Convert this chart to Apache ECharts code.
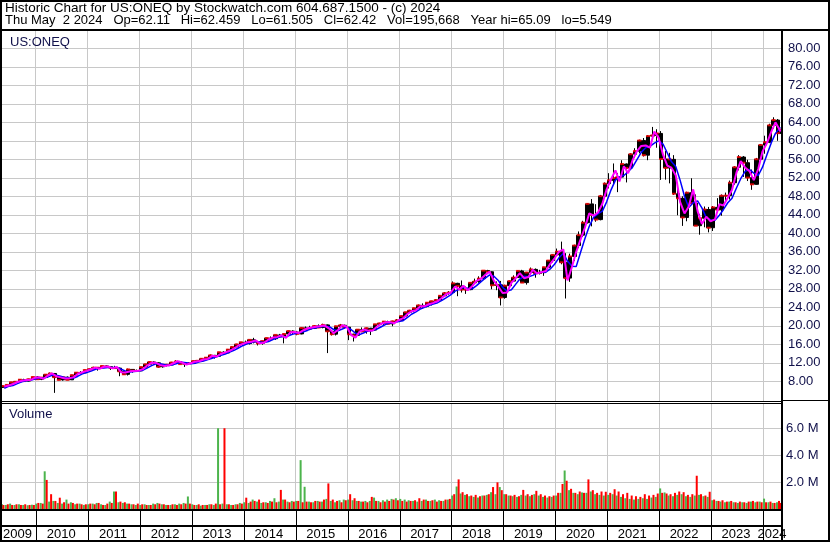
<!DOCTYPE html>
<html><head><meta charset="utf-8">
<script src="https://cdn.jsdelivr.net/npm/echarts@6.0.0/dist/echarts.min.js"></script>
<style>html,body{margin:0;padding:0;background:#fff;}#chart{width:830px;height:543px;}</style>
</head><body><div id="chart"></div>
<script>
// ---------- DATA (monthly, May 2009 .. May 2024) ----------
const startYear = 2009, startMonth = 4; // May 2009 (0-based month)
const lastDate = '2024-05-02';
const axisStart = '2009-05-12', axisEnd = '2024-05-13';
const yearTickLabels = [2009,2010,2011,2012,2013,2014,2015,2016,2017,2018,2019,2020,2021,2022,2023,2024];
const priceTicks = [8,12,16,20,24,28,32,36,40,44,48,52,56,60,64,68,72,76,80];
const volumeTicks = [2,4,6];
const headerLine1 = 'Historic Chart for US:ONEQ by Stockwatch.com 604.687.1500 - (c) 2024';
const headerLine2 = 'Thu May  2 2024   Op=62.11   Hi=62.459   Lo=61.505   Cl=62.42   Vol=195,668   Year hi=65.09   lo=5.549';

const openP = [
 6.70,6.98,7.22,7.79,7.91,8.35,8.05,8.44,
 8.93,8.45,8.81,9.44,9.69,8.89,8.30,8.88,8.32,9.33,9.87,9.83,
 10.44,10.63,10.95,10.95,11.31,11.16,10.92,10.85,10.15,9.51,10.57,10.31,
 10.26,11.08,11.68,12.17,11.99,11.13,11.56,11.57,12.07,12.27,11.72,11.85,
 11.89,12.37,12.44,12.87,13.11,13.61,13.40,14.28,14.13,14.85,15.43,15.98,
 16.44,16.16,16.96,16.53,16.20,16.70,17.35,17.20,18.03,17.69,18.23,18.87,
 18.65,18.25,19.54,19.30,19.45,19.96,19.63,20.19,18.81,18.19,19.90,20.11,
 19.71,18.17,17.94,19.17,18.80,19.48,19.07,20.32,20.52,20.91,20.43,20.96,
 21.19,22.11,22.93,23.28,23.81,24.41,24.17,24.99,25.31,25.57,26.49,27.06,
 27.18,29.18,28.63,27.81,27.82,29.30,29.57,30.20,31.93,31.68,28.76,28.86,
 26.12,28.67,29.66,30.43,31.87,29.34,31.52,32.19,31.35,31.49,32.65,34.11,
 35.33,36.03,33.73,30.31,35.00,37.36,39.60,42.30,46.36,43.97,42.96,48.03,
 50.74,51.46,51.94,52.15,54.97,54.13,57.10,57.77,60.07,56.89,61.02,61.17,
 61.59,56.06,54.14,55.99,48.56,47.56,43.42,48.78,46.52,41.64,43.26,45.15,
 41.20,45.61,45.10,48.12,48.14,50.93,54.28,56.48,55.26,52.04,50.59,56.01,
 59.10,59.70,63.35,64.48,61.65
];
const closeP = [
 6.98,7.22,7.79,7.91,8.35,8.05,8.44,8.93,
 8.45,8.81,9.44,9.69,8.89,8.30,8.88,8.32,9.33,9.87,9.83,10.44,
 10.63,10.95,10.95,11.31,11.16,10.92,10.85,10.15,9.51,10.57,10.31,10.26,
 11.08,11.68,12.17,11.99,11.13,11.56,11.57,12.07,12.27,11.72,11.85,11.89,
 12.37,12.44,12.87,13.11,13.61,13.40,14.28,14.13,14.85,15.43,15.98,16.44,
 16.16,16.96,16.53,16.20,16.70,17.35,17.20,18.03,17.69,18.23,18.87,18.65,
 18.25,19.54,19.30,19.45,19.96,19.63,20.19,18.81,18.19,19.90,20.11,19.71,
 18.17,17.94,19.17,18.80,19.48,19.07,20.32,20.52,20.91,20.43,20.96,21.19,
 22.11,22.93,23.28,23.81,24.41,24.17,24.99,25.31,25.57,26.49,27.06,27.18,
 29.18,28.63,27.81,27.82,29.30,29.57,30.20,31.93,31.68,28.76,28.86,26.12,
 28.67,29.66,30.43,31.87,29.34,31.52,32.19,31.35,31.49,32.65,34.11,35.33,
 36.03,33.73,30.31,35.00,37.36,39.60,42.30,46.36,43.97,42.96,48.03,50.74,
 51.46,51.94,52.15,54.97,54.13,57.10,57.77,60.07,56.89,61.02,61.17,61.59,
 56.06,54.14,55.99,48.56,47.56,43.42,48.78,46.52,41.64,43.26,45.15,41.20,
 45.61,45.10,48.12,48.14,50.93,54.28,56.48,55.26,52.04,50.59,56.01,59.10,
 59.70,63.35,64.48,61.65,62.42
];
const highP = [
 7.10,7.30,7.85,8.05,8.45,8.55,8.55,8.98,
 9.10,8.85,9.48,9.90,9.80,9.25,8.95,9.05,9.40,9.95,10.20,10.50,
 10.80,11.15,11.05,11.40,11.45,11.20,11.35,10.95,10.30,10.75,10.65,10.55,
 11.10,11.75,12.30,12.30,12.10,11.65,11.75,12.20,12.55,12.40,11.95,12.10,
 12.45,12.60,12.95,13.15,13.80,13.70,14.35,14.50,15.00,15.60,16.10,16.50,
 16.80,17.05,17.40,16.75,16.75,17.40,17.70,18.05,18.25,18.30,18.95,19.00,
 18.90,19.65,19.85,20.00,20.10,20.30,20.45,20.30,19.00,20.00,20.40,20.25,
 19.75,18.30,19.25,19.65,19.60,19.55,20.40,20.65,21.05,21.10,21.10,21.45,
 22.20,23.00,23.45,23.90,24.60,24.85,25.15,25.40,25.75,26.60,27.30,27.50,
 29.60,29.30,29.80,28.50,29.45,30.20,30.70,32.00,32.10,31.75,29.60,29.70,
 28.90,29.80,30.90,32.00,32.10,31.65,32.60,32.40,32.10,32.75,34.20,35.45,
 36.70,38.20,35.70,35.60,37.55,40.40,42.70,46.50,47.40,46.30,48.30,51.00,
 53.00,55.10,53.00,55.80,55.10,57.30,58.40,60.25,60.60,61.20,63.00,62.50,
 62.10,57.80,57.40,56.90,50.00,48.00,49.00,51.90,48.40,44.20,45.80,45.70,
 45.90,47.60,48.40,48.80,51.40,54.50,56.90,56.70,55.90,53.80,56.30,59.30,
 61.10,63.70,65.09,64.70,62.46
];
const lowP = [
 6.55,6.90,6.95,7.60,7.75,8.00,7.95,8.40,
 8.40,8.25,8.80,9.40,5.50,8.25,8.15,8.25,8.30,9.25,9.70,9.85,
 10.40,10.60,10.30,10.85,10.90,10.45,10.75,9.10,9.40,9.25,9.85,10.00,
 10.20,11.05,11.60,11.65,10.95,10.95,11.20,11.55,12.00,11.70,11.10,11.65,
 11.85,12.15,12.40,12.45,13.10,12.90,13.40,14.00,14.10,14.65,15.40,15.75,
 16.05,15.95,16.20,15.75,15.90,16.65,17.15,16.95,17.55,16.20,18.20,18.10,
 17.95,18.15,19.05,19.20,19.30,19.50,19.45,14.10,17.90,17.90,19.70,19.40,
 16.90,16.60,17.85,18.60,18.30,18.00,18.95,20.25,20.20,20.35,19.90,20.90,
 21.15,22.05,22.75,22.95,23.70,23.75,24.00,24.40,25.05,25.55,26.40,26.70,
 27.10,26.40,27.20,26.90,27.70,29.15,29.30,29.90,31.20,27.90,27.70,24.40,
 25.85,28.45,29.50,30.40,29.25,28.90,31.50,30.40,31.10,30.80,32.60,33.70,
 35.10,33.30,25.90,29.50,34.00,36.80,39.20,42.10,41.50,42.50,42.80,47.60,
 49.70,50.50,48.90,52.10,51.00,53.80,56.30,57.30,56.60,55.80,60.20,58.50,
 51.55,51.60,50.80,48.30,43.90,41.60,42.60,46.40,41.60,39.70,41.30,40.20,
 40.50,44.50,43.80,46.80,47.30,50.50,53.60,52.20,51.30,49.40,50.50,55.60,
 57.20,59.50,62.60,60.00,61.50
];
const maShort = [
 6.85,7.10,7.40,7.85,8.10,8.30,8.30,8.75,
 8.85,8.55,9.20,9.70,9.10,8.85,8.60,8.65,8.90,9.65,9.95,10.25,
 10.60,10.95,10.70,11.15,11.20,10.80,11.10,9.95,9.90,10.15,10.20,10.30,
 10.65,11.45,12.00,12.00,11.50,11.30,11.45,11.90,12.35,12.05,11.60,11.90,
 12.25,12.40,12.70,12.85,13.50,13.35,13.95,14.25,14.60,15.10,15.75,16.10,
 16.45,16.55,16.85,16.20,16.35,17.05,17.45,17.60,17.95,17.40,18.60,18.65,
 18.45,19.05,19.45,19.65,19.80,19.95,20.05,19.40,18.40,19.10,20.10,19.85,
 18.05,17.45,18.75,19.20,18.95,19.00,19.80,20.45,20.75,20.80,20.55,21.20,
 21.65,22.55,23.15,23.35,24.20,24.25,24.65,24.95,25.35,26.05,26.85,27.15,
 28.45,27.90,28.65,27.70,28.55,29.70,30.10,31.00,31.70,29.70,28.50,27.10,
 27.20,29.30,30.20,31.40,30.30,30.55,32.10,31.30,31.60,31.85,33.40,34.60,
 36.00,36.50,29.80,32.70,36.00,38.70,41.20,44.30,43.80,44.50,46.40,49.50,
 51.70,53.60,51.20,54.50,53.00,55.80,57.70,58.90,59.00,58.50,62.00,60.70,
 57.00,54.60,54.20,52.50,46.80,44.30,45.80,49.50,44.80,42.00,43.60,42.60,
 43.00,46.30,46.00,47.70,49.40,53.10,55.60,54.20,53.40,51.50,53.90,57.70,
 59.50,62.00,64.00,62.30,62.00
];
const maLong = [
 6.50,6.90,7.10,7.50,7.90,8.10,8.20,8.50,
 8.70,8.70,8.90,9.30,9.30,9.10,8.80,8.70,8.70,9.10,9.60,9.90,
 10.20,10.60,10.80,10.90,11.00,11.00,11.00,10.60,10.20,10.00,10.10,10.20,
 10.40,10.90,11.40,11.80,11.80,11.60,11.40,11.60,11.90,12.10,12.00,11.80,
 11.90,12.20,12.40,12.70,13.00,13.30,13.60,13.90,14.30,14.70,15.20,15.70,
 16.10,16.40,16.60,16.50,16.40,16.60,17.00,17.40,17.70,17.60,18.00,18.30,
 18.50,18.70,19.00,19.40,19.60,19.80,19.90,19.80,19.20,18.90,19.30,19.70,
 19.20,18.40,18.10,18.50,18.90,19.00,19.30,19.80,20.30,20.60,20.70,20.90,
 21.10,21.80,22.50,23.00,23.60,24.00,24.40,24.70,25.00,25.50,26.10,26.70,
 27.50,27.90,28.30,28.10,28.00,28.70,29.50,30.30,31.00,30.70,29.80,28.30,
 27.50,27.80,28.90,30.10,30.70,30.60,30.90,31.40,31.60,31.60,32.30,33.30,
 34.70,35.70,34.00,32.90,32.80,35.90,38.80,41.50,43.50,44.20,44.80,46.80,
 49.40,51.50,52.20,52.50,53.30,54.30,55.90,57.50,58.50,58.80,59.50,60.00,
 59.30,57.30,55.50,54.40,51.50,48.00,45.60,46.60,47.00,45.50,43.40,42.90,
 42.80,43.90,45.10,46.60,47.60,49.80,51.80,53.40,53.80,53.00,52.50,54.30,
 57.00,59.60,61.60,62.80,62.90
];
const volUp = [
 0.35,0.30,0.40,0.30,0.35,0.30,0.28,0.32,
 0.40,0.45,2.80,0.55,0.60,0.45,0.40,0.70,0.50,0.35,0.40,0.30,
 0.35,0.40,0.45,0.35,0.30,0.55,1.30,0.50,0.45,0.40,0.35,0.30,
 0.30,0.35,0.30,0.40,0.45,0.35,0.30,0.30,0.35,0.40,0.45,0.93,
 0.35,0.30,0.25,0.30,0.35,0.30,6.00,0.40,0.35,0.30,0.35,0.45,
 0.50,0.45,0.70,0.55,0.45,0.50,0.60,0.80,0.55,0.70,0.55,0.60,
 0.60,3.63,1.65,0.55,0.50,0.60,0.55,0.75,0.60,0.50,0.65,0.70,
 0.70,0.65,0.60,0.55,0.60,0.60,0.85,0.60,0.65,0.70,0.75,0.80,
 0.75,0.70,0.65,0.60,0.55,0.60,0.70,0.60,0.70,0.65,0.60,0.70,
 1.00,1.67,1.15,1.05,0.95,0.90,0.85,1.00,1.05,1.25,1.10,1.63,
 1.10,1.00,0.95,0.90,1.05,1.00,0.95,1.10,1.00,0.90,0.85,0.90,
 1.00,1.20,2.86,1.40,1.20,1.10,1.23,1.20,1.30,1.10,1.05,1.00,
 1.05,1.10,1.00,0.90,0.80,0.75,0.70,0.75,0.80,0.75,0.85,0.90,
 1.53,1.23,1.00,0.95,1.05,1.10,0.95,0.90,1.00,1.05,0.95,0.90,
 0.65,0.60,0.55,0.50,0.55,0.50,0.45,0.50,0.45,0.55,0.50,0.55,
 0.77,0.50,0.45,0.50,0.40
];
const volDown = [
 0.30,0.35,0.30,0.35,0.30,0.35,0.30,0.30,
 0.45,0.40,2.16,1.10,0.60,0.84,0.50,0.40,0.45,0.40,0.35,0.35,
 0.40,0.35,0.45,0.30,0.40,0.45,1.30,0.55,0.50,0.40,0.35,0.40,
 0.35,0.30,0.30,0.35,0.40,0.35,0.30,0.35,0.30,0.35,0.40,0.40,
 0.30,0.35,0.30,0.30,0.35,0.40,0.35,6.00,0.35,0.30,0.35,0.40,
 0.84,0.55,0.60,0.70,0.50,0.45,0.55,0.50,1.42,0.70,0.50,0.55,
 0.60,0.50,0.55,0.50,0.60,0.55,0.70,1.90,0.70,0.60,0.50,0.65,
 1.10,0.80,0.60,0.55,0.50,0.90,0.60,0.50,0.55,0.60,0.70,0.65,
 0.60,0.55,0.60,0.65,0.80,0.70,0.60,0.65,0.55,0.60,0.70,0.75,
 1.10,2.20,1.25,1.10,1.00,1.05,0.95,1.00,1.10,1.63,1.98,1.40,
 1.10,1.00,1.05,0.95,1.42,1.10,1.05,1.35,1.10,1.00,0.95,1.00,
 1.20,1.86,2.10,1.50,1.20,1.30,1.20,2.20,1.40,1.20,1.30,1.28,
 1.20,1.47,1.30,1.10,1.20,1.00,0.95,0.90,1.10,1.00,1.05,1.15,
 1.20,1.15,1.10,1.20,1.30,1.25,1.05,1.10,2.47,1.10,1.00,1.28,
 0.70,0.60,0.65,0.55,0.60,0.50,0.55,0.50,0.55,0.60,0.55,0.50,
 0.50,0.55,0.45,0.60,0.45
];

// ---------- helpers ----------
const ts = s => Date.parse(s + 'T00:00:00Z');
const X0 = ts(axisStart), X1 = ts(axisEnd), LAST = ts(lastDate);
function monthDate(i, day) {
  const k = startMonth + i;
  const t = Date.UTC(startYear + Math.floor(k / 12), k % 12, day);
  return Math.max(X0, Math.min(LAST, t));
}
const yearStarts = yearTickLabels.slice(1).map(y => Date.UTC(y, 0, 1));
const yearLabelPos = yearTickLabels.map((y, i) =>
  i === 0 ? Date.UTC(y, 7, 20) : (i === yearTickLabels.length - 1 ? Date.UTC(y, 2, 4) : Date.UTC(y, 5, 24)));

const candles = closeP.map((c, i) => [monthDate(i, 15), openP[i], c, lowP[i], highP[i]]);
const closeTicks = closeP.map((c, i) => [monthDate(i, 15), c]);
const shortLine = maShort.map((v, i) => [monthDate(i, 28), v]);
const longLine = maLong.map((v, i) => [monthDate(i, 28), v]);
const upBars = volUp.map((v, i) => [monthDate(i, 8), v]);
const downBars = volDown.map((v, i) => [monthDate(i, 22), v]);

const FONT = '"Liberation Sans", Arial, sans-serif';
const LBL = '#10104a';
const GRID = '#c8c8c8';

const xBase = (g) => ({
  gridIndex: g, type: 'value', min: X0, max: X1,
  axisLine: {show: false},
  axisTick: {show: false, customValues: yearStarts},
  axisLabel: {show: false},
  splitLine: {show: true, lineStyle: {color: GRID, width: 1}}
});

const chart = echarts.init(document.getElementById('chart'), null, {renderer: 'canvas'});
chart.setOption({
  animation: false,
  backgroundColor: '#ffffff',
  grid: [
    {left: 2, right: 48, top: 31, height: 370},
    {left: 2, right: 48, top: 404, height: 105},
    {left: 2, right: 48, top: 511, height: 29}
  ],
  xAxis: [
    xBase(0),
    xBase(1),
    Object.assign(xBase(2), {
      splitLine: {show: true, lineStyle: {color: '#000', width: 1}},
      axisLabel: {
        show: true, customValues: yearLabelPos, inside: true, margin: 6,
        verticalAlign: 'middle', fontSize: 13, fontFamily: FONT, color: '#000',
        formatter: v => String(new Date(v).getUTCFullYear())
      }
    })
  ],
  yAxis: [
    {gridIndex: 0, type: 'value', position: 'right', min: 3.74, max: 83.74,
     axisLine: {show: false}, axisTick: {show: false, customValues: priceTicks},
     axisLabel: {customValues: priceTicks, formatter: v => v.toFixed(2), margin: 6,
                 fontSize: 13, fontFamily: FONT, color: LBL},
     splitLine: {show: true, lineStyle: {color: GRID, width: 1}}},
    {gridIndex: 1, type: 'value', position: 'right', min: 0, max: 7.8,
     axisLine: {show: false}, axisTick: {show: false, customValues: volumeTicks},
     axisLabel: {customValues: volumeTicks, formatter: v => v.toFixed(1) + ' M', margin: 4,
                 fontSize: 13, fontFamily: FONT, color: LBL},
     splitLine: {show: true, lineStyle: {color: GRID, width: 1}}},
    {gridIndex: 2, type: 'value', show: false, min: 0, max: 1}
  ],
  series: [
    {type: 'candlestick', xAxisIndex: 0, yAxisIndex: 0, data: candles,
     encode: {x: 0, y: [1, 2, 3, 4]}, barWidth: 4, z: 2,
     itemStyle: {color: '#000', color0: '#000', borderColor: '#000', borderColor0: '#000', borderWidth: 1}},
    {type: 'scatter', xAxisIndex: 0, yAxisIndex: 0, data: closeTicks, symbol: 'rect',
     symbolSize: [4, 2], itemStyle: {color: '#ff0000'}, z: 3, silent: true},
    {type: 'line', xAxisIndex: 0, yAxisIndex: 0, data: longLine, showSymbol: false,
     lineStyle: {color: '#0000ff', width: 1.5}, z: 4, silent: true},
    {type: 'line', xAxisIndex: 0, yAxisIndex: 0, data: shortLine, showSymbol: false,
     lineStyle: {color: '#ff00ff', width: 2}, z: 5, silent: true},
    {type: 'bar', xAxisIndex: 1, yAxisIndex: 1, data: upBars, barWidth: 2, barGap: '-100%',
     itemStyle: {color: '#4cb44c'}, z: 2, silent: true},
    {type: 'bar', xAxisIndex: 1, yAxisIndex: 1, data: downBars, barWidth: 2, barGap: '-100%',
     itemStyle: {color: '#ff0000'}, z: 2, silent: true}
  ],
  graphic: [
    {type: 'rect', z: 100, shape: {x: 1, y: 1, width: 828, height: 540}, style: {fill: null, stroke: '#000', lineWidth: 2}},
    {type: 'line', z: 100, shape: {x1: 0, y1: 30, x2: 830, y2: 30}, style: {stroke: '#000', lineWidth: 2}},
    {type: 'line', z: 100, shape: {x1: 782, y1: 30, x2: 782, y2: 542}, style: {stroke: '#000', lineWidth: 2}},
    {type: 'line', z: 100, shape: {x1: 0, y1: 401.5, x2: 782, y2: 401.5}, style: {stroke: '#000', lineWidth: 1}},
    {type: 'line', z: 100, shape: {x1: 0, y1: 403.5, x2: 782, y2: 403.5}, style: {stroke: '#000', lineWidth: 1}},
    {type: 'line', z: 100, shape: {x1: 782, y1: 400.5, x2: 830, y2: 400.5}, style: {stroke: '#000', lineWidth: 1}},
    {type: 'line', z: 100, shape: {x1: 0, y1: 510, x2: 782, y2: 510}, style: {stroke: '#000', lineWidth: 2}},
    {type: 'line', z: 100, shape: {x1: 0, y1: 526, x2: 782, y2: 526}, style: {stroke: '#000', lineWidth: 2}},
    {type: 'text', z: 100, style: {x: 5, y: 8, text: headerLine1, font: '13.5px ' + FONT, fill: '#000', verticalAlign: 'middle'}},
    {type: 'text', z: 100, style: {x: 5, y: 20, text: headerLine2, font: '13px ' + FONT, fill: '#000', verticalAlign: 'middle'}},
    {type: 'text', z: 100, style: {x: 10, y: 42, text: 'US:ONEQ', font: '13px ' + FONT, fill: LBL, verticalAlign: 'middle'}},
    {type: 'text', z: 100, style: {x: 9, y: 414, text: 'Volume', font: '13px ' + FONT, fill: LBL, verticalAlign: 'middle'}}
  ]
});
</script></body></html>
